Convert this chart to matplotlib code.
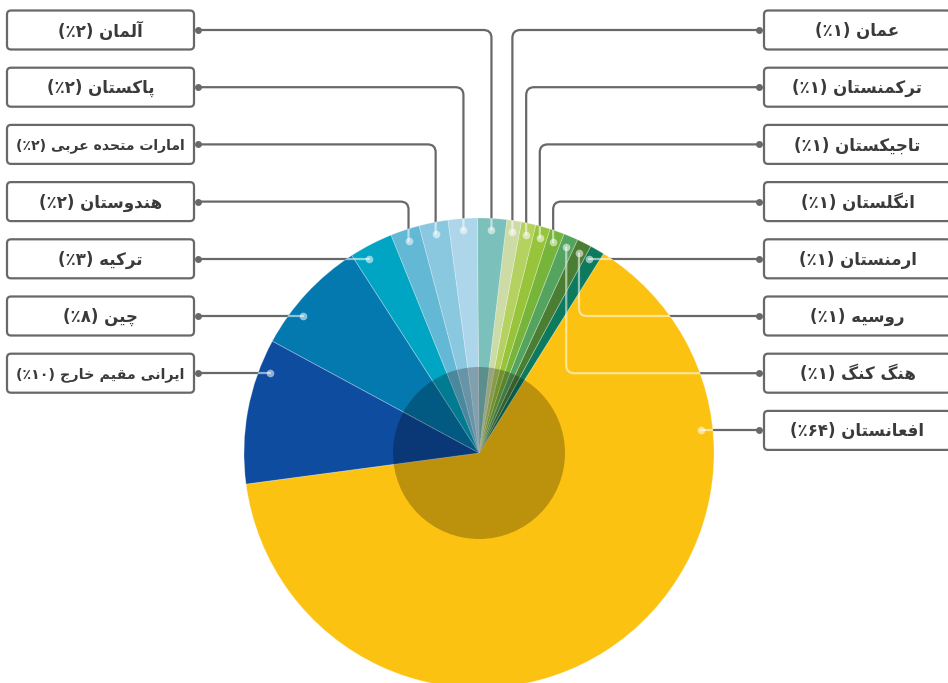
import numpy as np
import matplotlib
matplotlib.use("Agg")
import matplotlib.pyplot as plt
from matplotlib.patches import FancyBboxPatch, Circle, PathPatch
from matplotlib.path import Path

# ---------------- data ----------------
countries = ["افعانستان", "ارمنستان", "روسیه", "هنگ کنگ", "انگلستان", "تاجیکستان",
             "ترکمنستان", "عمان", "آلمان", "پاکستان", "امارات متحده عربی", "هندوستان",
             "ترکیه", "چین", "ایرانی مقیم خارج"]
shares = [64, 1, 1, 1, 1, 1, 1, 1, 2, 2, 2, 2, 3, 8, 10]
colors = ["#FCC211", "#0E7A5D", "#4A7F33", "#54A35E", "#76B43A", "#97C43A",
          "#B5D160", "#CDDBA6", "#7BC0BA", "#ADD6EA", "#8AC8E0", "#62B8D5",
          "#00A5C4", "#0479B0", "#0E4C9F"]
# label placement: side, row index, route ('h' horizontal, 'v' vertical then horizontal)
sides = ["R", "R", "R", "R", "R", "R", "R", "R", "L", "L", "L", "L", "L", "L", "L"]
rows = [7, 4, 5, 6, 3, 2, 1, 0, 0, 1, 2, 3, 4, 5, 6]
routes = ["h", "h", "v", "v", "v", "v", "v", "v", "v", "v", "v", "v", "h", "h", "h"]

# ---------------- Persian shaping (no bidi engine in matplotlib) ----------------
FORMS = {
    'ا': ('\uFE8D', '\uFE8E', None, None), 'آ': ('\uFE81', '\uFE82', None, None),
    'د': ('\uFEA9', '\uFEAA', None, None), 'ر': ('\uFEAD', '\uFEAE', None, None),
    'ز': ('\uFEAF', '\uFEB0', None, None), 'و': ('\uFEED', '\uFEEE', None, None),
    'ب': ('\uFE8F', '\uFE90', '\uFE91', '\uFE92'), 'ت': ('\uFE95', '\uFE96', '\uFE97', '\uFE98'),
    'ج': ('\uFE9D', '\uFE9E', '\uFE9F', '\uFEA0'), 'ح': ('\uFEA1', '\uFEA2', '\uFEA3', '\uFEA4'),
    'خ': ('\uFEA5', '\uFEA6', '\uFEA7', '\uFEA8'),
    'س': ('\uFEB1', '\uFEB2', '\uFEB3', '\uFEB4'), 'ع': ('\uFEC9', '\uFECA', '\uFECB', '\uFECC'),
    'غ': ('\uFECD', '\uFECE', '\uFECF', '\uFED0'), 'ف': ('\uFED1', '\uFED2', '\uFED3', '\uFED4'),
    'ق': ('\uFED5', '\uFED6', '\uFED7', '\uFED8'), 'ل': ('\uFEDD', '\uFEDE', '\uFEDF', '\uFEE0'),
    'م': ('\uFEE1', '\uFEE2', '\uFEE3', '\uFEE4'), 'ن': ('\uFEE5', '\uFEE6', '\uFEE7', '\uFEE8'),
    'ه': ('\uFEE9', '\uFEEA', '\uFEEB', '\uFEEC'), 'ی': ('\uFBFC', '\uFBFD', '\uFBFE', '\uFBFF'),
    'ک': ('\uFB8E', '\uFB8F', '\uFB90', '\uFB91'), 'گ': ('\uFB92', '\uFB93', '\uFB94', '\uFB95'),
    'پ': ('\uFB56', '\uFB57', '\uFB58', '\uFB59'), 'چ': ('\uFB7A', '\uFB7B', '\uFB7C', '\uFB7D'),
}


def dual(c):
    return c in FORMS and FORMS[c][2] is not None


def shape(word):
    out = []
    for i, c in enumerate(word):
        if c not in FORMS:
            out.append(c)
            continue
        prev = word[i - 1] if i > 0 else ''
        nxt = word[i + 1] if i + 1 < len(word) else ''
        jp = dual(prev)
        jn = dual(c) and nxt in FORMS
        iso, fin, ini, med = FORMS[c]
        if jp and jn:
            out.append(med)
        elif jp:
            out.append(fin)
        elif jn:
            out.append(ini)
        else:
            out.append(iso)
    return ''.join(out[::-1])


def fa_digits(n):
    return ''.join(chr(0x06F0 + int(d)) for d in str(n))


def label_text(name, pct):
    return "(\u066A" + fa_digits(pct) + ") " + shape(name)


# ---------------- figure ----------------
W, H = 948, 683
fig = plt.figure(figsize=(W / 100, H / 100), dpi=100)
ax = fig.add_axes([0, 0, 1, 1])


def Y(y):
    return H - y


cx, cy, R = 479, Y(453), 235
wedges, _ = ax.pie(shares, colors=colors, startangle=187.6, counterclock=True,
                   center=(cx, cy), radius=R, frame=True,
                   wedgeprops=dict(edgecolor=(1, 1, 1, 0.3), linewidth=0.6, zorder=2))
ax.set_xlim(0, W)
ax.set_ylim(0, H)
ax.axis("off")
ax.set_aspect("equal")

# inner dark circle
ax.add_patch(Circle((cx, cy), 86, facecolor="black", alpha=0.25, edgecolor="none", zorder=3))

row_y = [30 + 57.2 * i for i in range(8)]
GRAY = "#686868"
rdot = 0.95 * R
rc = 8
clip_circle = Circle((cx, cy), R, transform=ax.transData)

fig.canvas.draw()
renderer = fig.canvas.get_renderer()
MAXW = 168

for name, pct, w, side, row, route in zip(countries, shares, wedges, sides, rows, routes):
    yr = Y(row_y[row])
    if side == "L":
        bx0, bx1, xe = 7, 194, 198
    else:
        bx0, bx1, xe = 764, 951, 759
    # box
    ax.add_patch(FancyBboxPatch((bx0, yr - 19.5), bx1 - bx0, 39,
                                boxstyle="round,pad=0,rounding_size=4",
                                facecolor="white", edgecolor=GRAY, linewidth=1.6, zorder=6))
    t = ax.text((bx0 + bx1) / 2, yr - 1, label_text(name, pct), ha="center", va="center",
                fontsize=12, fontweight="bold", color="#3a3a3a", family="DejaVu Sans", zorder=7)
    tw = t.get_window_extent(renderer).width
    if tw > MAXW:
        t.set_fontsize(12 * MAXW / tw)
    # dot position
    if route == "h":
        dy = yr - cy
        dx = np.sqrt(rdot ** 2 - dy ** 2)
        xd = cx + dx if side == "R" else cx - dx
        yd = yr
        verts = [(xd, yd), (xe, yr)]
        codes = [Path.MOVETO, Path.LINETO]
    else:
        mid = np.deg2rad((w.theta1 + w.theta2) / 2)
        xd = cx + rdot * np.cos(mid)
        yd = cy + rdot * np.sin(mid)
        sy = 1 if yr > yd else -1
        sx = 1 if xe > xd else -1
        verts = [(xd, yd), (xd, yr - sy * rc), (xd, yr), (xd + sx * rc, yr), (xe, yr)]
        codes = [Path.MOVETO, Path.LINETO, Path.CURVE3, Path.CURVE3, Path.LINETO]
    path = Path(verts, codes)
    ax.add_patch(PathPatch(path, facecolor="none", edgecolor=GRAY, linewidth=1.6,
                           zorder=1, capstyle="round"))
    light = PathPatch(path, facecolor="none", edgecolor=(1, 1, 1, 0.55), linewidth=1.6,
                      zorder=4, capstyle="round")
    ax.add_patch(light)
    light.set_clip_path(clip_circle)
    ax.plot([xd], [yd], "o", color="white", alpha=0.55, markersize=5.5,
            markeredgewidth=0, zorder=5)
    ax.plot([xe], [yr], "o", color=GRAY, markersize=5, markeredgewidth=0, zorder=7)

fig.savefig("out.png", dpi=100)
